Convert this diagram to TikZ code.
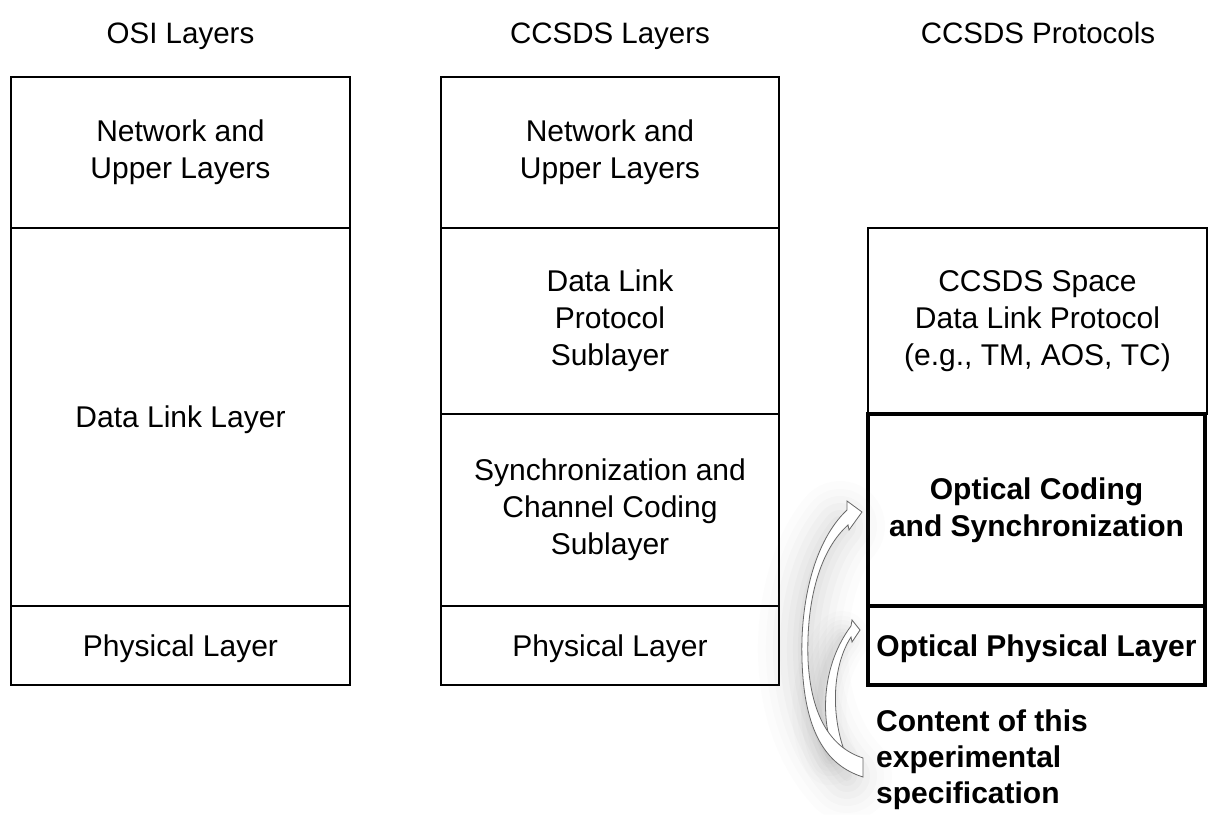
\documentclass[tikz,border=0pt]{standalone}
\usepackage{fontspec}
\setmainfont{Liberation Sans}
\begin{document}
\begin{tikzpicture}[x=1pt,y=-1pt]
\tikzset{
 lay/.style={draw, line width=1.8pt, inner sep=0pt, align=center, font=\fontsize{30}{37}\selectfont},
 oneline/.style={text depth=0pt},
 thk/.style={lay, line width=3.6pt, font=\fontsize{30}{37}\selectfont\bfseries},
 hdr/.style={font=\fontsize{29.5}{36}\selectfont, inner sep=0pt, anchor=base},
 note/.style={font=\fontsize{30}{36}\selectfont\bfseries, inner sep=0pt, align=left},
 blockarrow/.style={fill=white, draw=black!60, line width=0.8pt, line join=miter},
 glow/.style={gray, line cap=round}
}
\useasboundingbox (0,0) rectangle (1209,814);
\fill[white] (0,0) rectangle (1209,814);

% headers
\node[hdr] (h1) at (180.5,43) {OSI Layers};
\node[hdr] (h2) at (610,43) {CCSDS Layers};
\node[hdr] (h3) at (1038,43) {CCSDS Protocols};

% OSI column
\node[lay, minimum width=339pt, minimum height=151pt] (o1) at (180.5,152.5) {Network and\\Upper Layers};
\node[lay, oneline, minimum width=339pt, minimum height=378pt] (o2) at (180.5,417) {Data Link Layer};
\node[lay, oneline, minimum width=339pt, minimum height=79pt] (o3) at (180.5,645.5) {Physical Layer};

% CCSDS layers column
\node[lay, minimum width=338pt, minimum height=151pt] (c1) at (610,152.5) {Network and\\Upper Layers};
\node[lay, minimum width=338pt, minimum height=186pt] (c2) at (610,321) {Data Link\\Protocol\\Sublayer};
\node[lay, minimum width=338pt, minimum height=192pt] (c3) at (610,510) {Synchronization and\\Channel Coding\\Sublayer};
\node[lay, oneline, minimum width=338pt, minimum height=79pt] (c4) at (610,645.5) {Physical Layer};

% CCSDS protocols column
\node[lay, minimum width=339pt, minimum height=186pt] (p1) at (1037.5,321) {CCSDS Space\\Data Link Protocol\\(e.g., TM, AOS, TC)};
\node[thk, minimum width=337pt, minimum height=192pt] (p2) at (1036.5,510) {Optical Coding\\and Synchronization};
\node[thk, oneline, minimum width=337pt, minimum height=79pt] (p3) at (1036.5,645.5) {Optical Physical Layer};

\node[note, anchor=west] (content) at (876,760) {Content of this\\experimental\\specification};

% soft shadow around the curved arrows
\begin{scope}[shift={(-8,6)}]
\foreach \w/\o in {90/0.02,74/0.025,60/0.03,46/0.035,32/0.04,20/0.045,10/0.05}{
  \draw[glow, line width=\w pt, opacity=\o] (848,520) .. controls (805,570) and (790,700) .. (855,770);
  \draw[glow, line width=0.6*\w pt, opacity=\o] (850,632) .. controls (828,660) and (818,715) .. (838,752);
}
\end{scope}

% short curved arrow (to Optical Physical Layer)
\draw[blockarrow] (832,748) .. controls (821,715) and (822,665) .. (851,626)
  -- (852,620) -- (860,630) -- (852,642) -- (851,637)
  .. controls (833,665) and (830,712) .. (845,753) -- cycle;

% long curved arrow (to Optical Coding and Synchronization)
\draw[blockarrow] (863,758) .. controls (832,748) and (811,718) .. (808,660)
  .. controls (806,600) and (820,550) .. (848,525)
  -- (849,530) -- (862,512) -- (847,501) -- (847,510)
  .. controls (815,540) and (800,600) .. (802,660)
  .. controls (804,730) and (825,765) .. (863,777) -- cycle;
\end{tikzpicture}
\end{document}
